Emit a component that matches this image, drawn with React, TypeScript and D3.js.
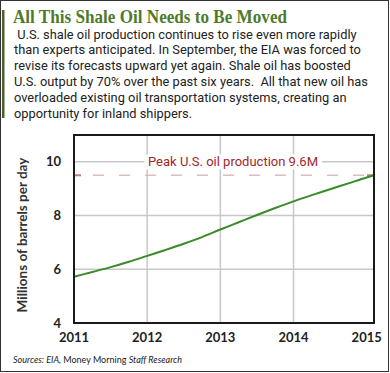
import React, { useRef, useEffect } from "react";
import * as d3 from "d3";

// Values (millions of barrels per day, quarterly)
const years = [2011, 2011.25, 2011.5, 2011.75, 2012, 2012.25, 2012.5, 2012.75, 2013, 2013.25, 2013.5, 2013.75, 2014, 2014.25, 2014.5, 2014.75, 2015, 2015.1];
const production = [5.72, 5.9, 6.08, 6.28, 6.5, 6.72, 6.95, 7.2, 7.48, 7.75, 8.02, 8.28, 8.53, 8.76, 8.98, 9.2, 9.42, 9.5];
const xTicks = [2011, 2012, 2013, 2014, 2015];
const yTicks = [4, 6, 8, 10];
const peakValue = 9.5;
const peakLabel = "Peak U.S. oil production 9.6M";
const title = "All This Shale Oil Needs to Be Moved";
const bodyLines = [
  " U.S. shale oil production continues to rise even more rapidly",
  "than experts anticipated. In September, the EIA was forced to",
  "revise its forecasts upward yet again. Shale oil has boosted",
  "U.S. output by 70% over the past six years.  All that new oil has",
  "overloaded existing oil transportation systems, creating an",
  "opportunity for inland shippers.",
];

const App = () => {
  const svgRef = useRef<SVGSVGElement>(null);

  useEffect(() => {
    const width = 390;
    const height = 373;
    const margin = { top: 135, right: 16, bottom: 50, left: 74 };

    const svg = d3.select(svgRef.current).attr("width", width).attr("height", height);
    svg.selectAll("*").remove();

    // outer frame + green bar
    svg.append("rect").attr("x", 0.5).attr("y", 0.5).attr("width", 388).attr("height", 371)
      .attr("fill", "#fff").attr("stroke", "#333").attr("stroke-width", 1);
    svg.append("rect").attr("x", 2).attr("y", 10).attr("width", 2.5).attr("height", 108).attr("fill", "#4d6130");

    // title squeezed to the width it has in the original
    svg.append("text").attr("x", 13).attr("y", 23)
      .attr("font-family", "Liberation Serif, serif").attr("font-weight", "bold")
      .attr("font-size", 19).attr("fill", "#4f7a2c")
      .attr("textLength", 274).attr("lengthAdjust", "spacingAndGlyphs").text(title);

    // body text, font size fitted so line 2 spans ~347px
    const body = svg.append("g")
      .attr("font-family", "Roboto, sans-serif").attr("fill", "#222");
    const probe = body.append("text").attr("font-size", 13.3).text(bodyLines[1]);
    const w = (probe.node() as SVGTextElement).getComputedTextLength();
    probe.remove();
    const fs = 13.3 * 347 / w;
    body.selectAll("text").data(bodyLines).enter().append("text")
      .attr("x", 14).attr("y", (_, i) => 38.5 + i * 15.9)
      .attr("font-size", fs)
      .attr("xml:space", "preserve").style("white-space", "pre")
      .text((d) => d);

    const xScale = d3.scaleLinear().domain([2011, 2015.1]).range([margin.left, width - margin.right]);
    const yScale = d3.scaleLinear().domain([4, 11]).range([height - margin.bottom, margin.top]);

    // grid
    svg.append("g").selectAll("line").data(xTicks.slice(1, -1)).enter().append("line")
      .attr("x1", (d) => xScale(d)).attr("x2", (d) => xScale(d))
      .attr("y1", margin.top).attr("y2", height - margin.bottom)
      .attr("stroke", "#c8c8c8").attr("stroke-width", 1.5);
    svg.append("g").selectAll("line").data(yTicks.slice(1)).enter().append("line")
      .attr("x1", margin.left).attr("x2", width - margin.right)
      .attr("y1", (d) => yScale(d)).attr("y2", (d) => yScale(d))
      .attr("stroke", "#c8c8c8").attr("stroke-width", 1.5);

    // peak dashed line
    const py = yScale(peakValue);
    svg.append("line").attr("x1", margin.left + 19).attr("x2", width - margin.right - 8)
      .attr("y1", py).attr("y2", py)
      .attr("stroke", "#dcbcbc").attr("stroke-width", 1.5).attr("stroke-dasharray", "11,15");
    svg.append("line").attr("x1", margin.left).attr("x2", margin.left + 7).attr("y1", py).attr("y2", py)
      .attr("stroke", "#c47a7a").attr("stroke-width", 2);
    svg.append("line").attr("x1", width - margin.right - 7).attr("x2", width - margin.right).attr("y1", py).attr("y2", py)
      .attr("stroke", "#c47a7a").attr("stroke-width", 2);

    // peak label with white box
    const lbl = svg.append("g");
    const lblText = lbl.append("text").attr("x", 148).attr("y", yScale(10) + 4.5)
      .attr("font-family", "Roboto, sans-serif").attr("font-size", 13)
      .attr("fill", "#a3262a").text(peakLabel);
    const bb = (lblText.node() as SVGTextElement).getBBox();
    lbl.insert("rect", "text").attr("x", bb.x - 4).attr("y", bb.y).attr("width", bb.width + 8).attr("height", bb.height).attr("fill", "#fff");

    // data line
    const line = d3.line<number>().x((_, i) => xScale(years[i])).y((d) => yScale(d)).curve(d3.curveMonotoneX);
    svg.append("path").datum(production).attr("fill", "none").attr("stroke", "#3b8a2a")
      .attr("stroke-width", 2).attr("d", line);

    // plot frame
    svg.append("rect").attr("x", margin.left).attr("y", margin.top)
      .attr("width", width - margin.right - margin.left).attr("height", height - margin.bottom - margin.top)
      .attr("fill", "none").attr("stroke", "#1a1a1a").attr("stroke-width", 2);

    // tick labels
    svg.append("g").selectAll("text").data(yTicks).enter().append("text")
      .attr("x", 61).attr("y", (d) => yScale(d) + 4.5).attr("text-anchor", "end")
      .attr("font-family", "Lato, sans-serif").attr("font-weight", "bold").attr("font-size", 13)
      .attr("fill", "#222").text((d) => d);
    svg.append("g").selectAll("text").data(xTicks).enter().append("text")
      .attr("x", (d) => xScale(d)).attr("y", 342).attr("text-anchor", "middle")
      .attr("font-family", "Lato, sans-serif").attr("font-weight", "bold").attr("font-size", 13)
      .attr("fill", "#222").text((d) => d3.format("d")(d));

    svg.append("text").attr("transform", "translate(27,235) rotate(-90)").attr("text-anchor", "middle")
      .attr("font-family", "Lato, sans-serif").attr("font-weight", "bold").attr("font-size", 13.5)
      .attr("fill", "#333").text("Millions of barrels per day");

    const src = svg.append("text").attr("x", 13).attr("y", 363)
      .attr("font-family", "Lato, sans-serif").attr("font-size", 9).attr("fill", "#222");
    src.append("tspan").attr("font-style", "italic").text("Sources: EIA, ");
    src.append("tspan").text("Money Morning ");
    src.append("tspan").attr("font-style", "italic").text("Staff Research");
  }, []);

  return (
    <>
      <style>{"body{margin:0}"}</style>
      <svg ref={svgRef} style={{ display: "block" }}></svg>
    </>
  );
};

export default App;
